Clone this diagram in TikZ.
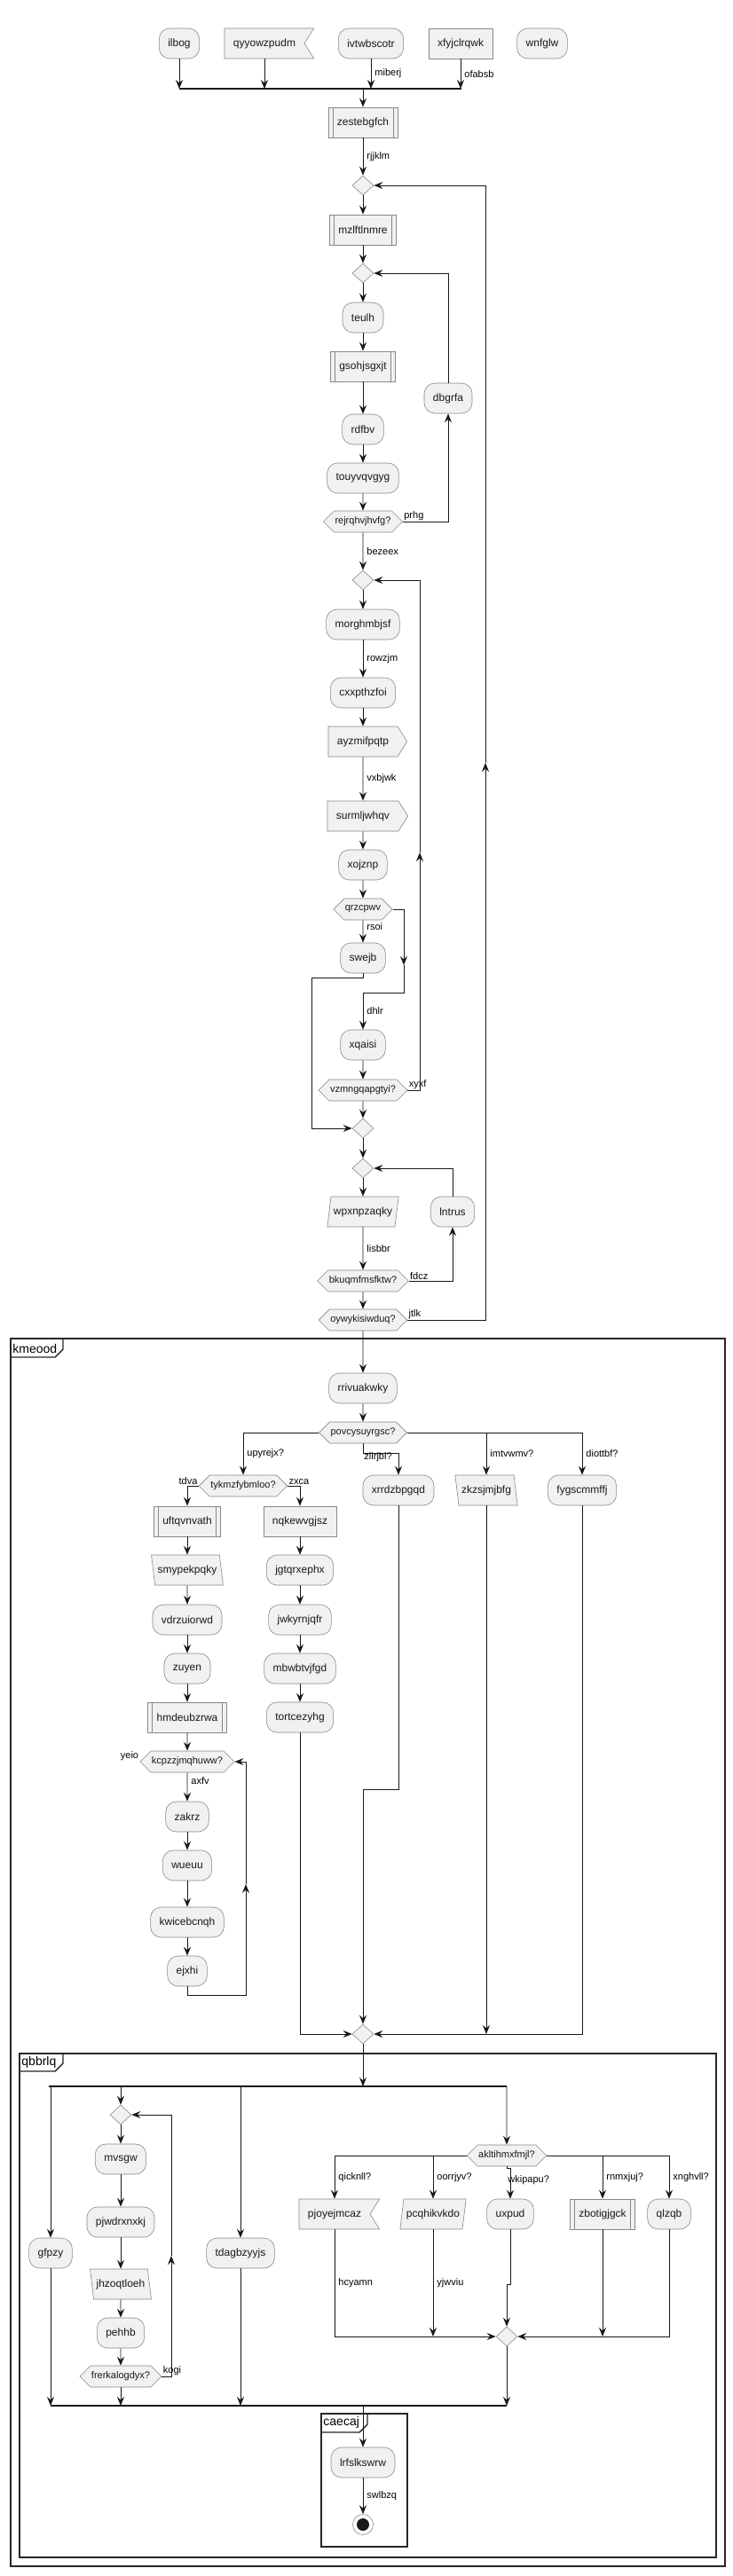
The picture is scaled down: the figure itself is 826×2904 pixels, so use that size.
\documentclass[tikz,border=0pt]{standalone}
\usepackage{fontspec}
\setmainfont{Liberation Sans}
\usetikzlibrary{arrows.meta,shapes.geometric,shapes.symbols}
\definecolor{nfill}{HTML}{F1F1F1}
\definecolor{ndraw}{HTML}{888888}
\definecolor{lcol}{HTML}{181818}
\begin{document}
\begin{tikzpicture}[x=1pt,y=-1pt,>={Stealth[length=10pt,width=8pt,inset=3.5pt]},line width=0.9pt,color=lcol,
		font=\fontsize{12}{14}\selectfont,
		rbox/.style={draw=ndraw,fill=nfill,line width=0.6pt,minimum height=34pt,inner xsep=10pt},
		act/.style={rbox,rounded corners=12pt},
		subp/.style={rbox,path picture={\draw[ndraw,line width=0.6pt] ([xshift=5pt]path picture bounding box.north west) -- ([xshift=5pt]path picture bounding box.south west) ([xshift=-5pt]path picture bounding box.north east) -- ([xshift=-5pt]path picture bounding box.south east);}},
		sendsh/.style={rbox,signal,signal to=east,signal pointer angle=116},
		recvsh/.style={rbox,signal,signal from=east,signal to=nowhere,signal pointer angle=116},
		iol/.style={rbox,trapezium,trapezium stretches body,trapezium left angle=77,trapezium right angle=103,inner xsep=3pt},
		ior/.style={rbox,trapezium,trapezium stretches body,trapezium left angle=103,trapezium right angle=77,inner xsep=3pt},
		dec/.style={draw=ndraw,fill=nfill,line width=0.6pt,signal,signal to=east and west,signal pointer angle=90,minimum height=24pt,inner xsep=1pt,font=\fontsize{11}{13}\selectfont},
		mrg/.style={draw=ndraw,fill=nfill,line width=0.6pt,diamond,minimum width=24pt,minimum height=22pt,inner sep=0pt},
		stopn/.style={circle,draw=ndraw,fill=white,line width=0.6pt,minimum size=23pt,inner sep=0pt,path picture={\fill[lcol] (path picture bounding box.center) circle[radius=7pt];}},
		lbl/.style={font=\fontsize{11}{13}\selectfont,inner sep=1pt,text=black},
		elbl/.style={lbl,right,xshift=3pt},
		tlbl/.style={lbl,anchor=south west},
		zlbl/.style={lbl,anchor=north west,yshift=-9pt},
		fbar/.style={line width=2.5pt,draw=lcol},
		frm/.style={line width=1.4pt,draw=black!85},
		frlbl/.style={anchor=west,inner sep=1pt,font=\fontsize{14}{16}\selectfont,text=black}]
	\useasboundingbox (0,0) rectangle (826,2904);
	\draw[frm] (12,1509) rectangle (817,2893);
	\draw[frm] (12,1530) -- (62,1530) -- (71,1521) -- (71,1509);
	\node[frlbl] (kmeood) at (13,1520) {kmeood};
	\draw[frm] (22,2315) rectangle (807,2883);
	\draw[frm] (22,2335) -- (62,2335) -- (71,2326) -- (71,2315);
	\node[frlbl] (qbbrlq) at (23,2325) {qbbrlq};
	\draw[frm] (362,2721) rectangle (459,2871);
	\draw[frm] (362,2742) -- (405,2742) -- (414,2733) -- (414,2721);
	\node[frlbl] (caecaj) at (363,2731) {caecaj};
	\node[act] (ilbog) at (202,49) {ilbog};
	\node[recvsh] (qyyo) at (298,49) {qyyowzpudm};
	\node[act] (ivtw) at (418,49) {ivtwbscotr};
	\node[rbox] (xfyj) at (519,49) {xfyjclrqwk};
	\node[act] (wnfg) at (611,49) {wnfglw};
	\coordinate (b1l) at (202,100);
	\coordinate (b1r) at (520,100);
	\node[subp] (zest) at (409,138) {zestebgfch};
	\node[mrg] (d1) at (409,209) {};
	\node[subp] (mzlf) at (409,259) {mzlftlnmre};
	\node[mrg] (d2) at (409,308) {};
	\node[act] (teul) at (409,358) {teulh};
	\node[subp] (gsoh) at (409,413) {gsohjsgxjt};
	\node[act] (rdfb) at (409,484) {rdfbv};
	\node[act] (touy) at (409,539) {touyvqvgyg};
	\node[dec] (rejr) at (409,588) {rejrqhvjhvfg?};
	\node[act] (dbgr) at (505,449) {dbgrfa};
	\node[mrg] (d3) at (409,654) {};
	\node[act] (morg) at (409,704) {morghmbjsf};
	\node[act] (cxxp) at (409,781) {cxxpthzfoi};
	\node[sendsh] (ayzm) at (409,836) {ayzmifpqtp};
	\node[sendsh] (surm) at (409,920) {surmljwhqv};
	\node[act] (xojz) at (409,975) {xojznp};
	\node[dec] (qrzc) at (409,1025) {qrzcpwv};
	\node[act] (swej) at (409,1080) {swejb};
	\coordinate (k2) at (455,1088);
	\coordinate (k2b) at (455,1119);
	\coordinate (k4) at (351,1102);
	\coordinate (k3) at (473,961);
	\coordinate (k5) at (547,860);
	\node[act] (xqai) at (409,1178) {xqaisi};
	\node[dec] (vzmn) at (409,1229) {vzmngqapgtyi?};
	\node[mrg] (d4) at (409,1272) {};
	\node[mrg] (d5) at (409,1317) {};
	\node[iol] (wpxn) at (409,1366) {wpxnpzaqky};
	\node[act] (lntr) at (510,1366) {lntrus};
	\node[dec] (bkuq) at (409,1444) {bkuqmfmsfktw?};
	\node[dec] (oywy) at (409,1488) {oywykisiwduq?};
	\node[act] (rriv) at (409,1565) {rrivuakwky};
	\node[dec] (povc) at (409,1615) {povcysuyrgsc?};
	\coordinate (c1) at (449,1638);
	\node[dec] (tykm) at (274,1675) {tykmzfybmloo?};
	\node[act] (xrrd) at (449,1680) {xrrdzbpgqd};
	\node[ior] (zkzs) at (548,1680) {zkzsjmjbfg};
	\node[act] (fygs) at (656,1680) {fygscmmffj};
	\node[subp] (uftq) at (211,1715) {uftqvnvath};
	\node[rbox] (nqke) at (338,1715) {nqkewvgjsz};
	\node[ior] (smyp) at (211,1770) {smypekpqky};
	\node[act] (jgtq) at (338,1770) {jgtqrxephx};
	\node[act] (vdrz) at (211,1826) {vdrzuiorwd};
	\node[act] (jwky) at (338,1826) {jwkyrnjqfr};
	\node[act] (zuye) at (211,1881) {zuyen};
	\node[act] (mbwb) at (338,1881) {mbwbtvjfgd};
	\node[subp] (hmde) at (211,1936) {hmdeubzrwa};
	\node[act] (tort) at (338,1936) {tortcezyhg};
	\node[dec] (kcpz) at (211,1986) {kcpzzjmqhuww?};
	\node[act] (zakr) at (211,2048) {zakrz};
	\node[act] (wueu) at (211,2103) {wueuu};
	\node[act] (kwic) at (211,2167) {kwicebcnqh};
	\node[act] (ejxh) at (211,2222) {ejxhi};
	\coordinate (k8) at (277,2124);
	\coordinate (k8b) at (277,2249);
	\coordinate (c6) at (409,2017);
	\node[mrg] (d6) at (409,2293) {};
	\coordinate (b2l) at (55,2352);
	\coordinate (b2r) at (571,2352);
	\node[mrg] (d7) at (136,2384) {};
	\node[act] (mvsg) at (136,2434) {mvsgw};
	\node[act] (pjwd) at (136,2505) {pjwdrxnxkj};
	\node[ior] (jhzo) at (136,2575) {jhzoqtloeh};
	\node[act] (pehh) at (136,2630) {pehhb};
	\node[dec] (frer) at (136,2679) {frerkalogdyx?};
	\coordinate (k7) at (193,2543);
	\node[act] (gfpz) at (57,2540) {gfpzy};
	\node[act] (tdag) at (271,2540) {tdagbzyyjs};
	\node[dec] (aklt) at (571,2430) {akltihmxfmjl?};
	\coordinate (c9) at (575,2444);
	\node[recvsh] (pjoy) at (377,2496) {pjoyejmcaz};
	\node[iol] (pcqh) at (488,2496) {pcqhikvkdo};
	\node[act] (uxpu) at (575,2496) {uxpud};
	\node[subp] (zbot) at (679,2496) {zbotigjgck};
	\node[act] (qlzq) at (754,2496) {qlzqb};
	\coordinate (c10) at (571,2575);
	\node[mrg] (d8) at (571,2634) {};
	\coordinate (b3l) at (57,2712);
	\coordinate (b3r) at (571,2712);
	\node[act] (lrfs) at (409,2776) {lrfslkswrw};
	\node[stopn] (stop) at (409,2846) {};
	\draw[->] (ilbog) -- (ilbog |- b1l);
	\draw[->] (qyyo) -- (qyyo |- b1l);
	\draw[->] (ivtw) -- node[elbl]{miberj} (ivtw |- b1l);
	\draw[->] (xfyj) -- node[elbl]{ofabsb} (xfyj |- b1l);
	\draw[fbar] (b1l) -- (b1r);
	\draw[->] (b1l -| zest) -- (zest);
	\draw[->] (zest) -- node[elbl]{rjjklm} (d1);
	\draw[->] (d1) -- (mzlf);
	\draw[->] (mzlf) -- (d2);
	\draw[->] (d2) -- (teul);
	\draw[->] (teul) -- (gsoh);
	\draw[->] (gsoh) -- (rdfb);
	\draw[->] (rdfb) -- (touy);
	\draw[->] (touy) -- (rejr);
	\draw[->] (rejr.east) node[tlbl]{prhg} -| (dbgr);
	\draw[->] (dbgr) |- (d2);
	\draw[->] (rejr) -- node[elbl]{bezeex} (d3);
	\draw[->] (d3) -- (morg);
	\draw[->] (morg) -- node[elbl]{rowzjm} (cxxp);
	\draw[->] (cxxp) -- (ayzm);
	\draw[->] (ayzm) -- node[elbl]{vxbjwk} (surm);
	\draw[->] (surm) -- (xojz);
	\draw[->] (xojz) -- (qrzc);
	\draw[->] (qrzc) -- node[elbl,pos=0.3]{rsoi} (swej);
	\draw[->] (qrzc) -| (k2);
	\draw[->] (k2) -- (k2b) -| node[elbl,pos=0.75]{dhlr} (xqai);
	\draw[->] (swej) |- (k4) |- (d4);
	\draw[->] (xqai) -- (vzmn);
	\draw[->] (vzmn.east) node[tlbl]{xyxf} -| (k3);
	\draw[->] (k3) |- (d3);
	\draw[->] (vzmn) -- (d4);
	\draw[->] (d4) -- (d5);
	\draw[->] (d5) -- (wpxn);
	\draw[->] (wpxn) -- node[elbl]{lisbbr} (bkuq);
	\draw[->] (bkuq.east) node[tlbl]{fdcz} -| (lntr);
	\draw[->] (lntr) |- (d5);
	\draw[->] (bkuq) -- (oywy);
	\draw[->] (oywy.east) node[tlbl]{jtlk} -| (k5);
	\draw[->] (k5) |- (d1);
	\draw[->] (oywy) -- (rriv);
	\draw[->] (rriv) -- (povc);
	\draw[->] (povc) -| node[elbl,pos=0.75]{upyrejx?} (tykm);
	\draw[->] (povc.south) node[zlbl]{zllrjbl?} |- (c1) -- (xrrd);
	\draw[->] (povc) -| node[elbl,pos=0.75]{imtvwmv?} (zkzs);
	\draw[->] (povc) -| node[elbl,pos=0.75]{diottbf?} (fygs);
	\draw[->] (tykm.west) node[lbl,anchor=south east]{tdva} -| (uftq);
	\draw[->] (tykm.east) node[tlbl]{zxca} -| (nqke);
	\draw[->] (uftq) -- (smyp);
	\draw[->] (smyp) -- (vdrz);
	\draw[->] (vdrz) -- (zuye);
	\draw[->] (zuye) -- (hmde);
	\draw[->] (hmde) -- (kcpz);
	\node[lbl,anchor=south east] (yeio) at (kcpz.west) {yeio};
	\draw[->] (kcpz) -- node[elbl,pos=0.3]{axfv} (zakr);
	\draw[->] (zakr) -- (wueu);
	\draw[->] (wueu) -- (kwic);
	\draw[->] (kwic) -- (ejxh);
	\draw[->] (ejxh) |- (k8b) -- (k8);
	\draw[->] (k8) |- (kcpz);
	\draw[->] (nqke) -- (jgtq);
	\draw[->] (jgtq) -- (jwky);
	\draw[->] (jwky) -- (mbwb);
	\draw[->] (mbwb) -- (tort);
	\draw[->] (tort) |- (d6);
	\draw[->] (xrrd) |- (c6) -- (d6);
	\draw[->] (zkzs) -- (zkzs |- d6);
	\draw[->] (fygs) |- (d6);
	\draw[->] (d6) -- (d6 |- b2l);
	\draw[->] (b2l -| gfpz) -- (gfpz);
	\draw[->] (b2l -| d7) -- (d7);
	\draw[->] (b2l -| tdag) -- (tdag);
	\draw[->] (b2r) -- (aklt);
	\draw[fbar] (b2l) -- (b2r);
	\draw[->] (d7) -- (mvsg);
	\draw[->] (mvsg) -- (pjwd);
	\draw[->] (pjwd) -- (jhzo);
	\draw[->] (jhzo) -- (pehh);
	\draw[->] (pehh) -- (frer);
	\draw[->] (frer.east) node[tlbl]{kogi} -| (k7);
	\draw[->] (k7) |- (d7);
	\draw[->] (frer) -- (frer |- b3l);
	\draw[->] (gfpz) -- (gfpz |- b3l);
	\draw[->] (tdag) -- (tdag |- b3l);
	\draw[->] (aklt) -| node[elbl,pos=0.75]{qicknll?} (pjoy);
	\draw[->] (aklt) -| node[elbl,pos=0.75]{oorrjyv?} (pcqh);
	\draw[->] (aklt.south) node[zlbl]{wkipapu?} |- (c9) -- (uxpu);
	\draw[->] (aklt) -| node[elbl,pos=0.75]{rnmxjuj?} (zbot);
	\draw[->] (aklt) -| node[elbl,pos=0.75]{xnghvll?} (qlzq);
	\draw[->] (pjoy) |- node[elbl,pos=0.25]{hcyamn} (d8);
	\draw[->] (pcqh) -- node[elbl]{yjwviu} (pcqh |- d8);
	\draw[->] (uxpu) |- (c10) -- (d8);
	\draw[->] (zbot) -- (zbot |- d8);
	\draw[->] (qlzq) |- (d8);
	\draw[->] (d8) -- (d8 |- b3l);
	\draw[fbar] (b3l) -- (b3r);
	\draw[->] (b3l -| lrfs) -- (lrfs);
	\draw[->] (lrfs) -- node[elbl]{swlbzq} (stop);
\end{tikzpicture}
\end{document}
